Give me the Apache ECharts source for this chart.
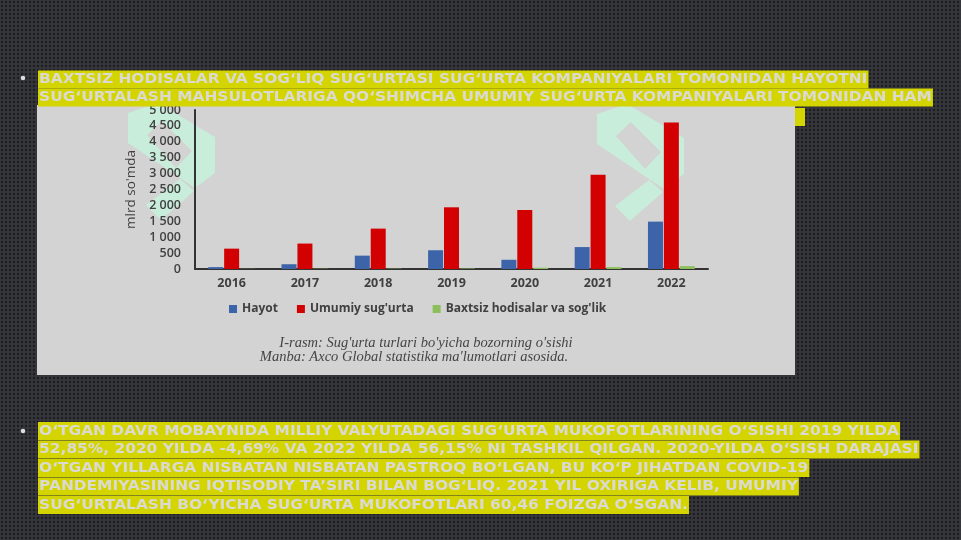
<!DOCTYPE html>
<html><head><meta charset="utf-8">
<script src="https://cdn.jsdelivr.net/npm/echarts@6/dist/echarts.min.js"></script>
<style>html,body{margin:0;padding:0;background:#2b2c30;}#c{width:961px;height:540px;}</style>
</head><body><div id="c"></div>
<script>
// ---- data ----
const years = ['2016','2017','2018','2019','2020','2021','2022'];
const hayot = [60, 150, 420, 590, 290, 690, 1490];
const umumiy = [640, 800, 1270, 1940, 1855, 2960, 4610];
const baxtsiz = [5, 8, 10, 15, 40, 60, 90];
const seriesNames = ['Hayot', "Umumiy sug'urta", "Baxtsiz hodisalar va sog'lik"];
const yTicks = {min: 0, max: 5000, interval: 500};
const yTitle = "mlrd so'mda";
const caption1 = "I-rasm: Sug'urta turlari bo'yicha bozorning o'sishi";
const caption2 = "Manba: Axco Global statistika ma'lumotlari asosida.";
const para1 = [
  "BAXTSIZ HODISALAR VA SOG\u2018LIQ SUG\u2018URTASI SUG\u2018URTA KOMPANIYALARI TOMONIDAN HAYOTNI",
  "SUG\u2018URTALASH MAHSULOTLARIGA QO\u2018SHIMCHA UMUMIY SUG\u2018URTA KOMPANIYALARI TOMONIDAN HAM"
];
const para2 = [
  "O\u2018TGAN DAVR MOBAYNIDA MILLIY VALYUTADAGI SUG\u2018URTA MUKOFOTLARINING O\u2018SISHI 2019 YILDA",
  "52,85%, 2020 YILDA -4,69% VA 2022 YILDA 56,15% NI TASHKIL QILGAN. 2020-YILDA O\u2018SISH DARAJASI",
  "O\u2018TGAN YILLARGA NISBATAN NISBATAN PASTROQ BO\u2018LGAN, BU KO\u2018P JIHATDAN COVID-19",
  "PANDEMIYASINING IQTISODIY TA\u2019SIRI BILAN BOG\u2018LIQ. 2021 YIL OXIRIGA KELIB, UMUMIY",
  "SUG\u2018URTALASH BO\u2018YICHA SUG\u2018URTA MUKOFOTLARI 60,46 FOIZGA O\u2018SGAN."
];

// ---- background pattern ----
const pc = document.createElement('canvas');
pc.width = 4; pc.height = 4;
const px = pc.getContext('2d');
px.fillStyle = '#36373c'; px.fillRect(0,0,4,4);
px.fillStyle = '#1d1e21'; px.beginPath(); px.arc(2,2,1.2,0,Math.PI*2); px.fill();

const chart = echarts.init(document.getElementById('c'));
const graphics = [];
graphics.push({type:'rect', z:-100, shape:{x:0,y:0,width:961,height:540}, style:{fill:{image:pc, repeat:'repeat'}}});
const hl = '#d4d400', tc = '#dadad2', font = 'bold 14px "DejaVu Sans"';
function addLine(txt, y, z){
  graphics.push({type:'text', z:z, x:38, y:y, scaleX:1.1, style:{text:txt, font:font, fill:tc, backgroundColor:hl, padding:[2,1,2,1], lineHeight:14, verticalAlign:'middle', align:'left'}});
}
addLine(para1[0], 79.5, 100);
addLine(para1[1], 97.5, 100);
// third line of paragraph 1 hidden behind the picture; only its end shows
graphics.push({type:'rect', z:-60, shape:{x:780,y:108,width:25,height:18}, style:{fill:hl}});
[431, 449.5, 468, 486.5, 505].forEach((y,i)=>addLine(para2[i], y, 100));
graphics.push({type:'circle', z:100, shape:{cx:23, cy:78, r:2.3}, style:{fill:'#dddddd'}});
graphics.push({type:'circle', z:100, shape:{cx:23, cy:431, r:2.3}, style:{fill:'#dddddd'}});
// chart picture background
graphics.push({type:'rect', z:-50, shape:{x:37,y:105,width:758,height:270}, style:{fill:'#d3d3d3'}});
// watermark logos on the picture
function logo(ox, oy){
  const P = a => a.map(p=>[p[0]+ox, p[1]+oy]);
  graphics.push({type:'polygon', z:-40, shape:{points:P([[0,10],[30,0],[87,34],[87,70],[67,85],[0,40]])}, style:{fill:'#c9eddb'}});
  graphics.push({type:'polygon', z:-39, shape:{points:P([[19,32],[34,18],[64,48],[48,65]])}, style:{fill:'#d3d3d3'}});
  graphics.push({type:'polygon', z:-40, shape:{points:P([[18,102],[52,76],[66,88],[33,117]])}, style:{fill:'#c9eddb'}});
}
logo(128,103);
logo(597,104);
graphics.push({type:'text', z:10, x:426, y:343, style:{text:caption1, font:'italic 14.5px "Liberation Serif"', fill:'#454545', align:'center', verticalAlign:'middle'}});
graphics.push({type:'text', z:10, x:414, y:357, style:{text:caption2, font:'italic 14.5px "Liberation Serif"', fill:'#454545', align:'center', verticalAlign:'middle'}});

function fmt(v){ return String(v).replace(/\B(?=(\d{3})+(?!\d))/g, ' '); }

chart.setOption({
  backgroundColor: '#2b2c30',
  animation: false,
  graphic: graphics,
  grid: {left:195, right:253, top:110, bottom:271, containLabel:false},
  legend: {
    data: seriesNames, left: 229, top: 303, padding: 0, icon: 'rect', itemWidth: 8, itemHeight: 8, itemGap: 19,
    textStyle: {fontSize: 12, fontWeight: 'bold', color: '#404040', fontFamily: '"Open Sans"'}
  },
  xAxis: {
    type: 'category', data: years,
    axisLine: {lineStyle: {color: '#333333', width: 2}},
    axisTick: {show: false},
    axisLabel: {fontSize: 12.5, fontWeight: 'bold', color: '#404040', margin: 8, fontFamily: '"Open Sans"'}
  },
  yAxis: {
    type: 'value', min: yTicks.min, max: yTicks.max, interval: yTicks.interval,
    name: yTitle, nameLocation: 'middle', nameGap: 57, nameRotate: 90,
    nameTextStyle: {fontSize: 13.5, color: '#404040', fontFamily: '"Open Sans"'},
    axisLine: {show: true, lineStyle: {color: '#333333', width: 2}},
    axisTick: {show: false},
    splitLine: {show: false},
    axisLabel: {fontSize: 12.5, fontWeight: 600, color: '#404040', margin: 14, formatter: fmt, fontFamily: '"Open Sans"'}
  },
  series: [
    {name: seriesNames[0], type: 'bar', data: hayot, barWidth: 15, barGap: '6%', itemStyle: {color: '#3d64a8'}},
    {name: seriesNames[1], type: 'bar', data: umumiy, barWidth: 15, barGap: '6%', itemStyle: {color: '#d20000'}},
    {name: seriesNames[2], type: 'bar', data: baxtsiz, barWidth: 15, barGap: '6%', itemStyle: {color: '#8cbf5c'}}
  ]
});
</script></body></html>
